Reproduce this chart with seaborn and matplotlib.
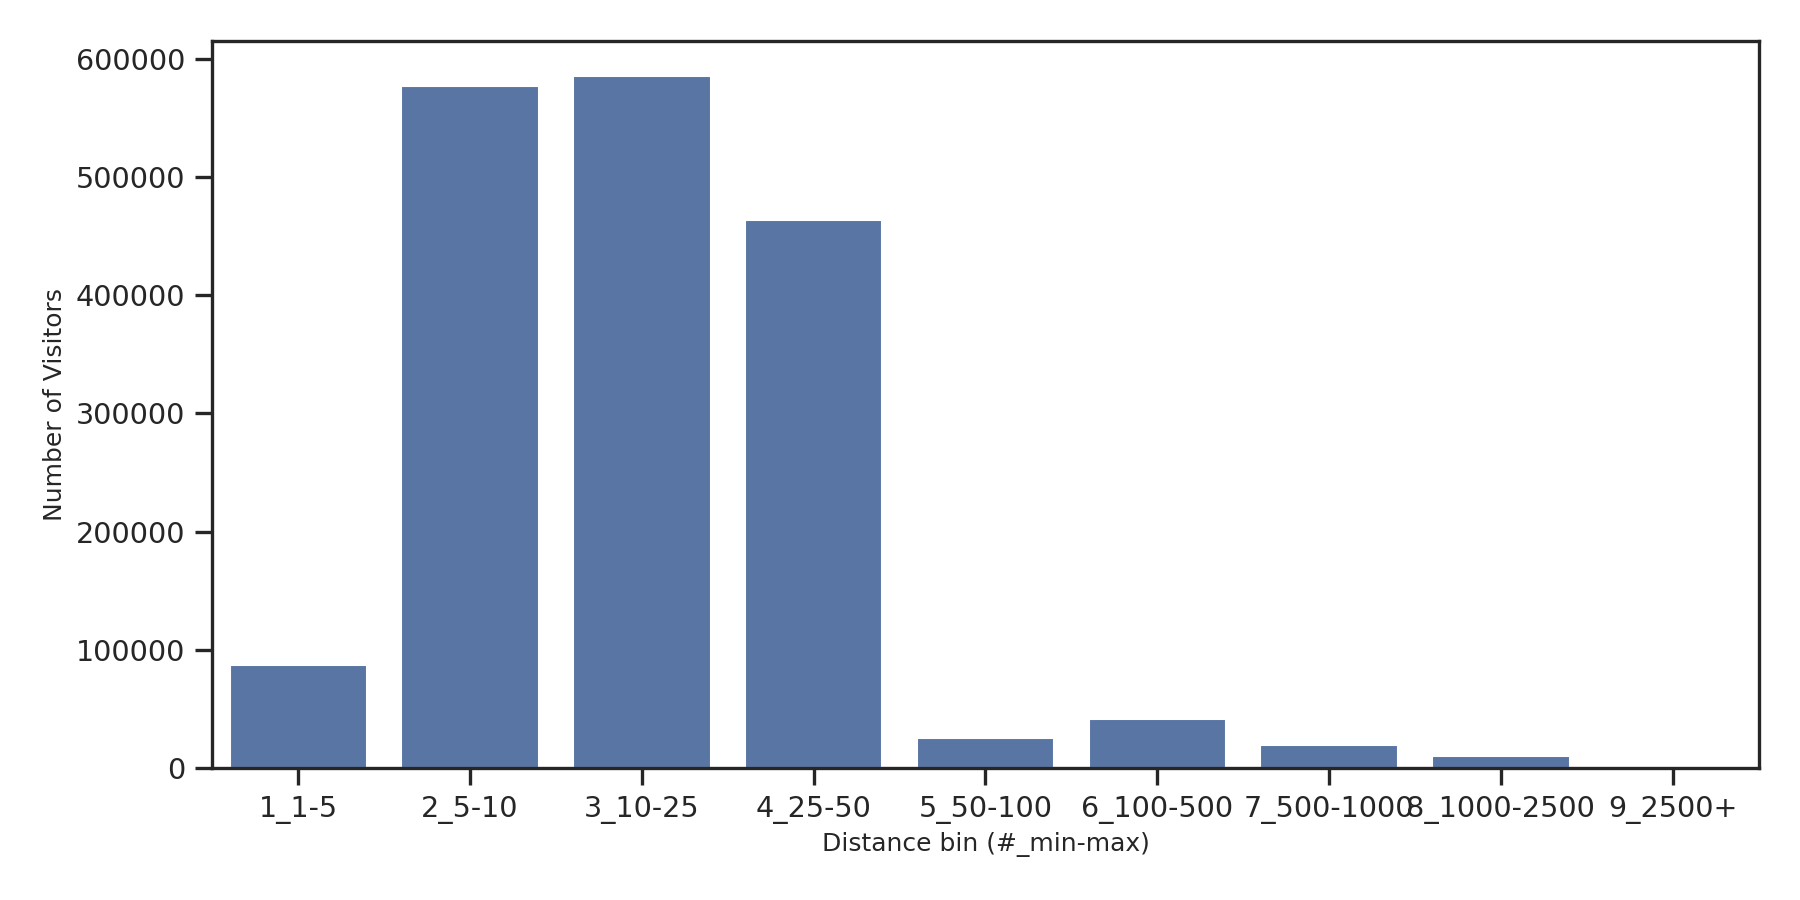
import matplotlib
matplotlib.use("Agg")
import matplotlib.pyplot as plt
import seaborn as sns
import pandas as pd

# distance bins and visitor counts
bins = ["1_1-5", "2_5-10", "3_10-25", "4_25-50", "5_50-100",
        "6_100-500", "7_500-1000", "8_1000-2500", "9_2500+"]
visitors = [87000, 577000, 585600, 463600, 25400, 41400, 19300, 9900, 300]

df = pd.DataFrame({"bin": bins, "visitors": visitors})

sns.set_theme(style="ticks")
plt.rcParams.update({
    "axes.linewidth": 1.6,
    "xtick.major.width": 1.6,
    "ytick.major.width": 1.6,
    "xtick.major.size": 8,
    "ytick.major.size": 8,
    "xtick.major.pad": 5.5,
    "ytick.major.pad": 5.0,
    "xtick.labelsize": 13.75,
    "ytick.labelsize": 13.75,
    "axes.labelsize": 12,
})

fig, ax = plt.subplots(figsize=(12, 6), dpi=150)
fig.subplots_adjust(left=0.118, right=0.977, top=0.954, bottom=0.147)

sns.barplot(data=df, x="bin", y="visitors", color=sns.color_palette("deep")[0], ax=ax)
ax.set_xlabel("Distance bin (#_min-max)")
ax.set_ylabel("Number of Visitors")
ax.set_ylim(0, 615000)

fig.savefig("out.png", dpi=150)
